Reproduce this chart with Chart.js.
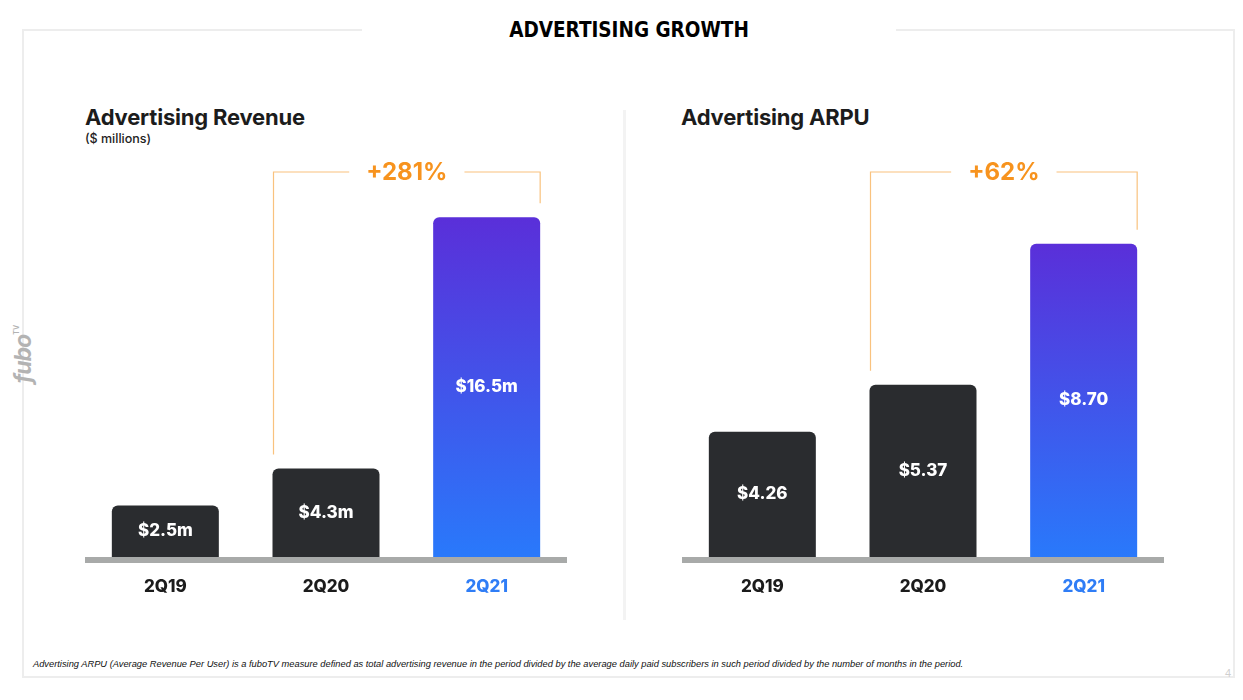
<!DOCTYPE html>
<html>
<head>
<meta charset="utf-8">
<script src="https://cdn.jsdelivr.net/npm/chart.js@4"></script>
<style>
  body { margin: 0; width: 1243px; height: 700px; background: #fff; position: relative; overflow: hidden; font-family: Inter, "Open Sans", sans-serif; }
  .panel { position: absolute; left: 22px; top: 29px; width: 1209px; height: 645px; border: 2px solid #ededed; }
  .title { position: absolute; left: 362px; top: 16px; width: 534px; text-align: center; background: #fff;
           font-family: "Liberation Sans Narrow", "DejaVu Sans Condensed", sans-serif; font-weight: bold; font-size: 20.5px; color: #000; line-height: 28px; }
  .divider { position: absolute; left: 623px; top: 110px; width: 3px; height: 510px; background: #f3f3f3; }
  .h { position: absolute; font-weight: 700; font-size: 22px; color: #1c1c1c; letter-spacing: -0.2px; }
  .sub { position: absolute; font-size: 12.5px; color: #222; font-weight: 500; }
  .box { position: absolute; top: 104px; width: 482px; height: 516px; }
  .logo { position: absolute; left: -6px; top: 340px; transform: rotate(-90deg); font-style: italic; font-weight: 700;
          font-size: 23px; color: #b3b3b3; letter-spacing: -1px; }
  .logo sup { font-size: 7px; font-style: normal; letter-spacing: 0; vertical-align: 12px; }
  .note { position: absolute; left: 33px; top: 659px; font-family: "Liberation Sans", Arial, sans-serif; font-style: italic; font-size: 9.3px; color: #111; }
  .page { position: absolute; left: 1225px; top: 667px; font-family: "Liberation Sans", sans-serif; font-size: 11px; color: #cfcfcf; }
</style>
</head>
<body>
<div class="panel"></div>
<div class="title">ADVERTISING GROWTH</div>
<div class="divider"></div>
<div class="logo">fubo<sup>TV</sup></div>

<div class="h" style="left:85px; top:104px;">Advertising Revenue</div>
<div class="sub" style="left:85px; top:131px;">($ millions)</div>
<div class="h" style="left:681px; top:104px;">Advertising ARPU</div>

<div class="box" style="left:85px;"><canvas id="revenueChart"></canvas></div>
<div class="box" style="left:682px;"><canvas id="arpuChart"></canvas></div>

<div class="note">Advertising ARPU (Average Revenue Per User) is a fuboTV measure defined as total advertising revenue in the period divided by the average daily paid subscribers in such period divided by the number of months in the period.</div>
<div class="page">4</div>

<script>
// data
const categories = ["2Q19", "2Q20", "2Q21"];
const revenueValues = [2.5, 4.3, 16.5];
const revenueLabels = ["$2.5m", "$4.3m", "$16.5m"];
const revenueGrowth = "+281%";
const arpuValues = [4.26, 5.37, 8.7];
const arpuLabels = ["$4.26", "$5.37", "$8.70"];
const arpuGrowth = "+62%";

const DARK = "#2a2c2f";
const ORANGE = "#f7931e";
const FONT = "Inter, 'Open Sans', sans-serif";

// grey baseline under the bars
const baselinePlugin = {
  id: "baseline",
  beforeDatasetsDraw(chart) {
    const a = chart.chartArea;
    const ctx = chart.ctx;
    ctx.save();
    ctx.fillStyle = "#a8aaa9";
    ctx.fillRect(a.left, a.bottom, a.right - a.left, 6);
    ctx.restore();
  },
};

// value text in the middle of each bar
const barLabelPlugin = {
  id: "barLabels",
  afterDatasetsDraw(chart, args, opts) {
    const ctx = chart.ctx;
    const meta = chart.getDatasetMeta(0);
    const bottom = chart.chartArea.bottom;
    ctx.save();
    ctx.fillStyle = "#fff";
    ctx.font = "800 17px " + FONT;
    ctx.textAlign = "center";
    ctx.textBaseline = "middle";
    meta.data.forEach((bar, i) => {
      const base = Math.min(bar.base, bottom);
      ctx.fillText(opts.labels[i], bar.x, (bar.y + base) / 2);
    });
    ctx.restore();
  },
};

// orange bracket with growth text
const bracketPlugin = {
  id: "bracket",
  afterDatasetsDraw(chart, args, opts) {
    const ctx = chart.ctx;
    const meta = chart.getDatasetMeta(0);
    const b1 = meta.data[opts.from];
    const b2 = meta.data[opts.to];
    const x1 = b1.x - b1.width / 2 + 1;
    const x2 = b2.x + b2.width / 2;
    const y = chart.chartArea.top + 68;
    const mid = (x1 + x2) / 2;
    ctx.save();
    ctx.font = "700 24px " + FONT;
    const tw = ctx.measureText(opts.text).width;
    ctx.strokeStyle = "#f9c27e";
    ctx.lineWidth = 1.2;
    ctx.beginPath();
    ctx.moveTo(x1, b1.y - 14);
    ctx.lineTo(x1, y);
    ctx.lineTo(mid - tw / 2 - 17, y);
    ctx.moveTo(mid + tw / 2 + 17, y);
    ctx.lineTo(x2, y);
    ctx.lineTo(x2, b2.y - 14);
    ctx.stroke();
    ctx.fillStyle = ORANGE;
    ctx.textAlign = "center";
    ctx.textBaseline = "middle";
    ctx.fillText(opts.text, mid, y + 1);
    ctx.restore();
  },
};

function barColor(context) {
  if (context.dataIndex !== 2) return DARK;
  const chart = context.chart;
  const y = chart.scales.y;
  if (!chart.chartArea || !y) return "#3d5be8";
  const top = y.getPixelForValue(context.raw);
  const g = chart.ctx.createLinearGradient(0, top, 0, chart.chartArea.bottom);
  g.addColorStop(0, "#5a2fd9");
  g.addColorStop(1, "#2979fb");
  return g;
}

function makeChart(id, values, labels, growth, yMin, yMax) {
  return new Chart(document.getElementById(id), {
    type: "bar",
    data: {
      labels: categories,
      datasets: [
        {
          data: values,
          backgroundColor: barColor,
          borderRadius: 6,
          borderSkipped: "bottom",
          barPercentage: 1,
          categoryPercentage: 0.666,
        },
      ],
    },
    options: {
      responsive: true,
      maintainAspectRatio: false,
      animation: false,
      layout: { padding: 0 },
      plugins: {
        legend: { display: false },
        tooltip: { enabled: false },
        barLabels: { labels: labels },
        bracket: { from: 1, to: 2, text: growth },
      },
      scales: {
        x: {
          grid: { display: false, drawTicks: false },
          border: { display: false },
          ticks: {
            padding: 20,
            font: { family: FONT, size: 17, weight: "800" },
            color: (c) => (c.index === 2 ? "#2f7df6" : "#1b1b1b"),
          },
          afterFit: (s) => {
            s.height = 63;
          },
        },
        y: { display: false, min: yMin, max: yMax },
      },
    },
    plugins: [baselinePlugin, barLabelPlugin, bracketPlugin],
  });
}

makeChart("revenueChart", revenueValues, revenueLabels, revenueGrowth, 0, 22);
makeChart("arpuChart", arpuValues, arpuLabels, arpuGrowth, 1.3, 12);
</script>
</body>
</html>
